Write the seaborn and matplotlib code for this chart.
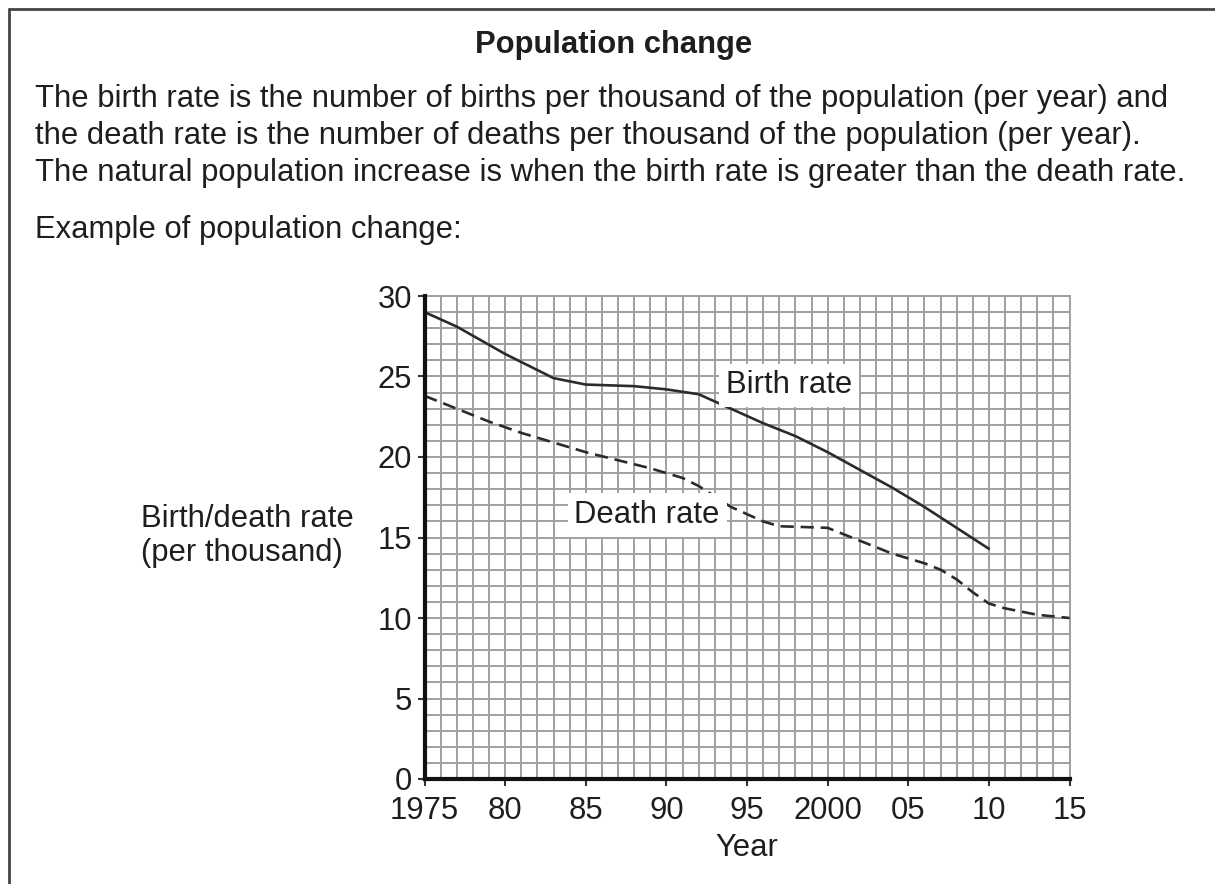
import matplotlib
matplotlib.use("Agg")
import matplotlib.pyplot as plt
from matplotlib.lines import Line2D
from matplotlib.ticker import MultipleLocator
import seaborn as sns

# values
birth_years = [1975, 1977, 1980, 1983, 1985, 1988, 1990, 1992, 1994, 1996, 1998, 2000, 2002, 2004, 2006, 2008, 2010]
birth_rate = [29.0, 28.1, 26.4, 24.9, 24.5, 24.4, 24.2, 23.9, 23.0, 22.1, 21.3, 20.3, 19.2, 18.1, 16.9, 15.6, 14.3]

death_years = [1975, 1977, 1979, 1981, 1983, 1985, 1987, 1989, 1991, 1992, 1994, 1996, 1997, 2000, 2002, 2004,
               2006, 2007, 2008, 2009, 2010, 2011, 2013, 2015]
death_rate = [23.8, 23.0, 22.2, 21.5, 20.9, 20.3, 19.8, 19.3, 18.7, 18.2, 16.9, 16.0, 15.7, 15.6, 14.8, 14.0,
              13.4, 13.0, 12.4, 11.6, 10.9, 10.6, 10.2, 10.0]

x_ticks = [1975, 1980, 1985, 1990, 1995, 2000, 2005, 2010, 2015]
x_tick_labels = ["1975", "80", "85", "90", "95", "2000", "05", "10", "15"]
y_ticks = [0, 5, 10, 15, 20, 25, 30]

title = "Population change"
intro = ("The birth rate is the number of births per thousand of the population (per year) and\n"
         "the death rate is the number of deaths per thousand of the population (per year).\n"
         "The natural population increase is when the birth rate is greater than the death rate.")
example_txt = "Example of population change:"

sns.set_theme(style="white")
plt.rcParams["font.family"] = ["Liberation Sans", "DejaVu Sans"]
txt_col = "#1e1e1e"
grid_col = "#a0a0a0"
line_col = "#2b2b2b"
fs = 22.3

W, H = 1215, 884
fig = plt.figure(figsize=(W / 100, H / 100), dpi=100)
fig.patch.set_facecolor("white")

# frame round the question (only top and left show in the crop)
fig.add_artist(Line2D([8.5 / W, 8.5 / W], [0, 1 - 9 / H], color="#444444", lw=2))
fig.add_artist(Line2D([8.5 / W, 1], [1 - 9 / H, 1 - 9 / H], color="#444444", lw=2))

fig.text(614 / W, 1 - 45 / H, title, ha="center", va="center", fontsize=fs, fontweight="bold", color=txt_col)
fig.text(35 / W, 1 - 136 / H, intro, ha="left", va="center", fontsize=fs, color=txt_col, linespacing=1.29)
fig.text(35 / W, 1 - 230 / H, example_txt, ha="left", va="center", fontsize=fs, color=txt_col)

ax = fig.add_axes([424.5 / W, 105 / H, 645 / W, 483 / H])

sns.lineplot(x=birth_years, y=birth_rate, ax=ax, color=line_col, lw=1.9, sort=False, zorder=5)
sns.lineplot(x=death_years, y=death_rate, ax=ax, color=line_col, lw=1.9, sort=False, zorder=5,
             linestyle=(0, (5, 2.6)))

ax.set_xlim(1975, 2015)
ax.set_ylim(0, 30)
ax.xaxis.set_minor_locator(MultipleLocator(1))
ax.yaxis.set_minor_locator(MultipleLocator(1))
ax.set_xticks(x_ticks)
ax.set_xticklabels(x_tick_labels)
ax.set_yticks(y_ticks)
ax.grid(which="both", color=grid_col, lw=1.4)
ax.set_axisbelow(True)

for s in ["left", "bottom"]:
    ax.spines[s].set_color("#111111")
    ax.spines[s].set_linewidth(3)
    ax.spines[s].set_zorder(6)
for s in ["top", "right"]:
    ax.spines[s].set_color(grid_col)
    ax.spines[s].set_linewidth(1.4)

ax.tick_params(axis="both", which="major", direction="out", length=5, width=1.5, color="#333333",
               labelsize=fs, labelcolor=txt_col, bottom=True, left=True)
ax.tick_params(axis="x", which="major", pad=7.5)
ax.tick_params(axis="y", which="major", pad=4)
ax.tick_params(axis="both", which="minor", length=0)
ax.set_xlabel("")
ax.set_ylabel("")

box = dict(facecolor="white", edgecolor="none", pad=5)
ax.text(1997.6, 24.45, "Birth rate", ha="center", va="center", fontsize=fs, color=txt_col, bbox=box, zorder=7)
ax.text(1988.8, 16.4, "Death rate", ha="center", va="center", fontsize=fs, color=txt_col, bbox=box, zorder=7)

fig.text(141 / W, 1 - 536 / H, "Birth/death rate\n(per thousand)", ha="left", va="center", fontsize=fs,
         color=txt_col, linespacing=1.2)
fig.text(747 / W, 1 - 848 / H, "Year", ha="center", va="center", fontsize=fs, color=txt_col)

fig.savefig("out.png", dpi=100, facecolor="white")
